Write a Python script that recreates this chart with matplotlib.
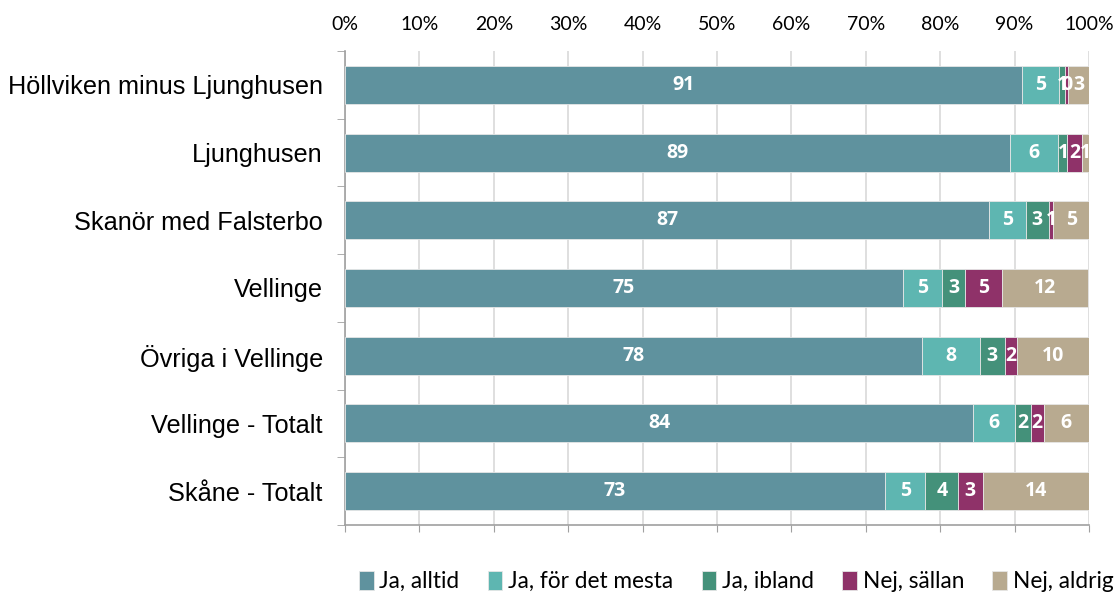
import matplotlib
matplotlib.use("Agg")
import matplotlib.pyplot as plt
import numpy as np

categories = ["Höllviken minus Ljunghusen", "Ljunghusen", "Skanör med Falsterbo",
              "Vellinge", "Övriga i Vellinge", "Vellinge - Totalt", "Skåne - Totalt"]
series_names = ["Ja, alltid", "Ja, för det mesta", "Ja, ibland", "Nej, sällan", "Nej, aldrig"]
ja_alltid = [91.0, 89.4, 86.6, 75.0, 77.6, 84.4, 72.6]
ja_mesta = [5.0, 6.5, 4.9, 5.3, 7.7, 5.6, 5.4]
ja_ibland = [0.8, 1.2, 3.1, 3.1, 3.4, 2.2, 4.4]
nej_sallan = [0.4, 1.9, 0.6, 4.9, 1.6, 1.7, 3.3]
nej_aldrig = [2.8, 1.0, 4.8, 11.6, 9.7, 6.1, 14.3]
colors = ["#5F929E", "#5EB6B1", "#44917A", "#8F3269", "#B8AA90"]
xticks = [0, 10, 20, 30, 40, 50, 60, 70, 80, 90, 100]

series = [ja_alltid, ja_mesta, ja_ibland, nej_sallan, nej_aldrig]

fig = plt.figure(figsize=(11.17, 5.96), dpi=100)
ax = fig.add_axes([345/1117, 1-525/596, (1089-345)/1117, (525-51)/596])

y = np.arange(len(categories))
left = np.zeros(len(categories))
handles = []
for name, vals, c in zip(series_names, series, colors):
    vals = np.array(vals)
    b = ax.barh(y, vals, left=left, height=0.56, color=c, edgecolor="#E6E6E6",
                linewidth=0.6, label=name, zorder=3)
    handles.append(b)
    for yi, l, v in zip(y, left, vals):
        ax.text(l + v/2, yi, f"{round(v):d}", ha="center", va="center",
                color="white", fontsize=14, fontweight="bold",
                family=["Open Sans", "DejaVu Sans"], zorder=4)
    left = left + vals

ax.set_xlim(0, 100)
ax.set_ylim(len(categories) - 0.5, -0.5)
ax.set_xticks(xticks)
ax.set_xticklabels([f"{t}%" for t in xticks], family=["Lato", "DejaVu Sans"], fontsize=14)
ax.tick_params(axis="x", top=False, labeltop=True, bottom=True, labelbottom=False,
               direction="out", length=5, color="#A0A0A0", pad=8)
ax.set_yticks(y)
ax.set_yticklabels(categories, family=["Liberation Sans", "DejaVu Sans"], fontsize=18.2)
ax.tick_params(axis="y", which="major", length=0, pad=16)
ax.set_yticks(np.arange(-0.5, len(categories) + 0.5, 1), minor=True)
ax.tick_params(axis="y", which="minor", length=6, color="#A0A0A0", direction="out")

ax.grid(axis="x", color="#D9D9D9", linewidth=1.2, zorder=0)
for s in ["top", "right"]:
    ax.spines[s].set_visible(False)
for s in ["left", "bottom"]:
    ax.spines[s].set_color("#A0A0A0")
    ax.spines[s].set_linewidth(1.2)

leg = fig.legend(handles=handles, labels=series_names, loc="center",
                 bbox_to_anchor=(0.659, 0.024), ncol=5, frameon=False,
                 handlelength=0.65, handleheight=0.9, handletextpad=0.25,
                 columnspacing=1.25, prop={"family": ["Lato", "DejaVu Sans"], "size": 16.3})

fig.savefig("out.png", dpi=100)
